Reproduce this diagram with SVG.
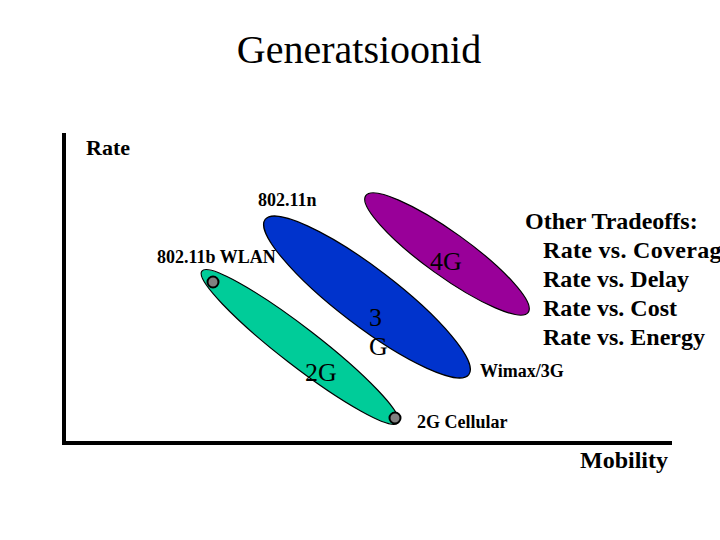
<svg xmlns="http://www.w3.org/2000/svg" width="720" height="540" viewBox="0 0 720 540">
<style>
  text { font-family: "Liberation Serif", "Times New Roman", serif; fill: #000; }
  .b { font-weight: bold; }
  .lbl { font-size: 18px; font-weight: bold; }
  .big { font-size: 24px; font-weight: bold; }
  .in { font-size: 26px; }
  .ell { stroke: #000; stroke-width: 1.2; }
  .dot { fill: #808080; stroke: #000; stroke-width: 2; }
  .axis { stroke: #000; stroke-width: 4; fill: none; }
</style>
<rect width="720" height="540" fill="#fff"/>
<text x="359" y="63" font-size="40" text-anchor="middle">Generatsioonid</text>

<g id="axes">
  <polyline class="axis" points="64,133 64,443 672,443"/>
  <text x="86" y="155" class="b" font-size="22">Rate</text>
  <text x="580" y="468" class="big">Mobility</text>
</g>

<g id="node-2g">
  <ellipse class="ell" cx="300" cy="347" rx="124" ry="19" fill="#00CC99" transform="rotate(37.7 300 347)"/>
  <text x="305" y="381" class="in">2G</text>
</g>

<g id="node-3g">
  <ellipse class="ell" cx="367" cy="297" rx="128" ry="29" fill="#0033CC" transform="rotate(37.3 367 297)"/>
  <text x="369" y="326" class="in">3</text>
  <text x="369" y="355" class="in">G</text>
</g>

<g id="node-4g">
  <ellipse class="ell" cx="447" cy="254" rx="100" ry="22" fill="#990099" transform="rotate(35.7 447 254)"/>
  <text x="430" y="270" class="in">4G</text>
</g>

<g id="connectors">
  <circle class="dot" cx="213" cy="282" r="5.5"/>
  <circle class="dot" cx="395" cy="418" r="5.5"/>
</g>

<g id="labels">
  <text x="258" y="206" class="lbl">802.11n</text>
  <text x="157" y="263" class="lbl">802.11b WLAN</text>
  <text x="480" y="377" class="lbl">Wimax/3G</text>
  <text x="417" y="428" class="lbl">2G Cellular</text>
</g>

<g id="tradeoffs" class="big">
  <text x="525" y="229">Other Tradeoffs:</text>
  <text x="543" y="258" letter-spacing="0.3">Rate vs. Coverage</text>
  <text x="543" y="287">Rate vs. Delay</text>
  <text x="543" y="316">Rate vs. Cost</text>
  <text x="543" y="345">Rate vs. Energy</text>
</g>
</svg>
